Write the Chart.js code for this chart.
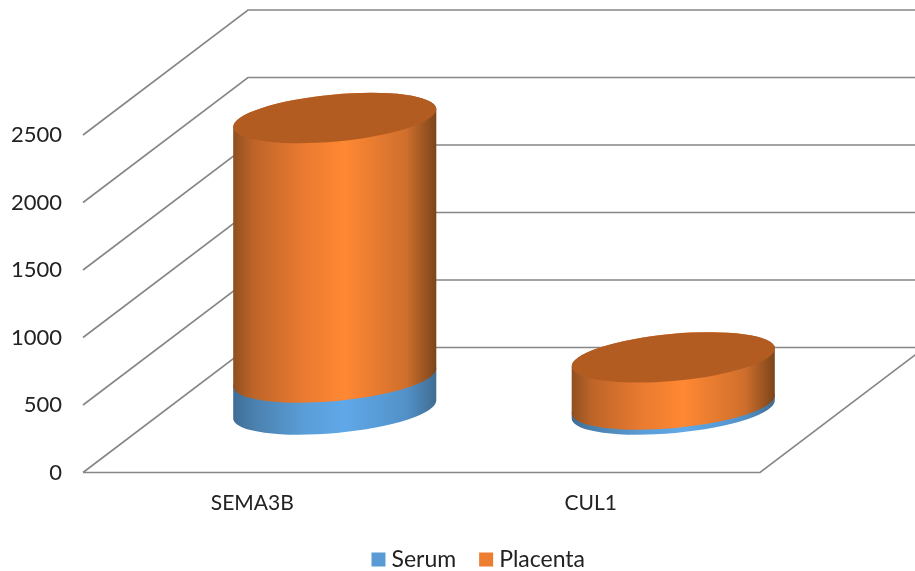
<!DOCTYPE html>
<html>
<head>
<meta charset="utf-8">
<style>html,body{margin:0;padding:0;background:#fff}#wrap{width:915px;height:571px}canvas{filter:blur(0.45px)}</style>
<script src="https://cdn.jsdelivr.net/npm/chart.js@4"></script>
</head>
<body>
<div id="wrap"><canvas id="c"></canvas></div>
<script>
const categories = ['SEMA3B', 'CUL1'];
const serum = [237, 37];
const placenta = [1922, 349];
const yTicks = [0, 500, 1000, 1500, 2000, 2500];

const DEPTH_X = 165, DEPTH_Y = 125, BAR_LIFT = 63;
const GRID = '#868686';
const RX_TILT = -5.3 * Math.PI / 180, RY = 23.5;
const LEGEND_SHIFT_X = 101, LEGEND_SHIFT_Y = -13;

const palettes = [
  {stops: [[0,'#3f6d96'],[0.1,'#4a80ad'],[0.35,'#5a9dd8'],[0.55,'#60a8e8'],[0.85,'#5291c8'],[1,'#3f6c92']]},
  {stops: [[0,'#8f4f1f'],[0.1,'#bd6429'],[0.35,'#ea7b30'],[0.55,'#ff8833'],[0.85,'#cf6f2d'],[1,'#7a4419']], cap: '#b35c22'}
];

function sideGradient(ctx, cx, rx, stops) {
  const g = ctx.createLinearGradient(cx - rx, 0, cx + rx, 0);
  stops.forEach(s => g.addColorStop(s[0], s[1]));
  return g;
}

function cylinder(ctx, cx, topY, botY, rx, pal) {
  ctx.beginPath();
  ctx.ellipse(cx, botY, rx, RY, RX_TILT, 0, Math.PI, false);
  ctx.lineTo(cx - rx * Math.cos(RX_TILT), topY - rx * Math.sin(RX_TILT));
  ctx.ellipse(cx, topY, rx, RY, RX_TILT, Math.PI, 2 * Math.PI, false);
  ctx.closePath();
  ctx.fillStyle = sideGradient(ctx, cx, rx, pal.stops);
  ctx.fill();
  if (pal.cap) {
    ctx.beginPath();
    ctx.ellipse(cx, topY, rx, RY, RX_TILT, 0, 2 * Math.PI);
    ctx.fillStyle = pal.cap;
    ctx.fill();
  }
}

const scene3d = {
  id: 'scene3d',
  afterLayout(chart) {
    chart.legend.left += LEGEND_SHIFT_X;
    chart.legend.right += LEGEND_SHIFT_X;
    chart.legend.top += LEGEND_SHIFT_Y;
    chart.legend.bottom += LEGEND_SHIFT_Y;
  },
  beforeDatasetsDraw(chart) {
    const {ctx, scales: {x, y}, chartArea: area} = chart;
    ctx.save();
    ctx.strokeStyle = GRID;
    ctx.lineWidth = 1.6;
    y.ticks.forEach(t => {
      const py = y.getPixelForValue(t.value);
      ctx.beginPath();
      ctx.moveTo(area.left, py);
      ctx.lineTo(area.left + DEPTH_X, py - DEPTH_Y);
      ctx.lineTo(chart.width + 5, py - DEPTH_Y);
      ctx.stroke();
    });
    const py0 = y.getPixelForValue(0);
    ctx.beginPath();
    ctx.moveTo(area.left, py0);
    ctx.lineTo(area.right, py0);
    ctx.lineTo(area.right + DEPTH_X, py0 - DEPTH_Y);
    ctx.stroke();

    categories.forEach((_, j) => {
      chart.data.datasets.forEach((ds, i) => {
        const el = chart.getDatasetMeta(i).data[j];
        const cx = el.x + DEPTH_X / 2;
        const rx = el.width / 2;
        cylinder(ctx, cx, el.y - BAR_LIFT, el.base - BAR_LIFT, rx, palettes[i]);
      });
    });
    ctx.restore();
    return false;
  }
};

new Chart(document.getElementById('c'), {
  type: 'bar',
  data: {
    labels: categories,
    datasets: [
      {label: 'Serum', data: serum, backgroundColor: '#5b9bd5', borderColor: '#5b9bd5', pointStyle: 'rect', categoryPercentage: 1, barPercentage: 0.6026},
      {label: 'Placenta', data: placenta, backgroundColor: '#ed7d31', borderColor: '#ed7d31', pointStyle: 'rect', categoryPercentage: 1, barPercentage: 0.6026}
    ]
  },
  plugins: [scene3d],
  options: {
    responsive: true,
    maintainAspectRatio: false,
    animation: false,
    layout: {padding: {left: 0, right: 155, top: 135, bottom: -23}},
    plugins: {
      tooltip: {enabled: false},
      legend: {
        position: 'bottom',
        labels: {usePointStyle: true, pointStyle: 'rect', boxWidth: 3, boxHeight: 14, padding: 28.5, color: '#222', font: {family: 'Lato', size: 23}}
      }
    },
    scales: {
      x: {
        stacked: true,
        grid: {display: false, drawTicks: false},
        border: {display: false},
        ticks: {color: '#222', font: {family: 'Lato', size: 21}, padding: 18, maxRotation: 0, autoSkip: false},
        afterFit(s) { s.height = 60; }
      },
      y: {
        stacked: true,
        min: 0,
        max: 2500,
        afterBuildTicks(s) { s.ticks = yTicks.map(v => ({value: v})); },
        grid: {display: false, drawTicks: false},
        border: {display: false},
        ticks: {color: '#222', font: {family: 'Lato', size: 22}, padding: 21, callback: v => String(v)},
        afterFit(s) { s.width = 83; }
      }
    }
  }
});
</script>
</body>
</html>
